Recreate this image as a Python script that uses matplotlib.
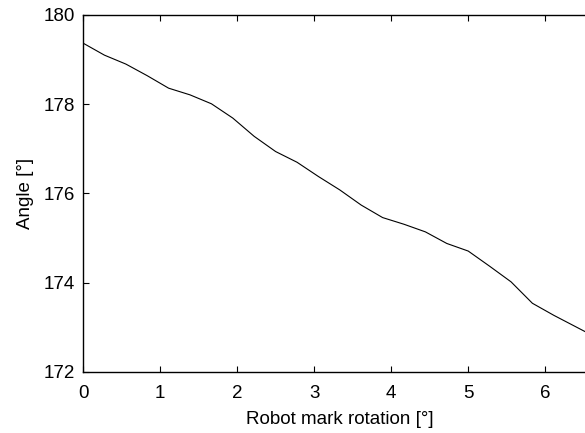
import numpy as np
import matplotlib
matplotlib.use("Agg")
from matplotlib import pyplot as plt

# values
rotation = [0.0, 0.278, 0.556, 0.833, 1.111, 1.389, 1.667, 1.944, 2.222, 2.5,
            2.778, 3.056, 3.333, 3.611, 3.889, 4.167, 4.444, 4.722, 5.0, 5.278,
            5.556, 5.833, 6.111, 6.389, 6.667]
angle = [179.37, 179.10, 178.90, 178.64, 178.36, 178.21, 178.01, 177.69, 177.28, 176.94,
         176.70, 176.38, 176.08, 175.74, 175.46, 175.31, 175.14, 174.88, 174.71, 174.37,
         174.02, 173.54, 173.27, 173.02, 172.77]
xticks = [0, 1, 2, 3, 4, 5, 6]
yticks = [172, 174, 176, 178, 180]

plt.rcParams['font.family'] = ['Liberation Sans', 'DejaVu Sans']

fig = plt.figure(figsize=(5.85, 4.33), dpi=100)
ax = fig.add_axes([0.1419, 0.1409, 0.878, 0.8245])
ax.plot(rotation, angle, color='black', linewidth=0.8)

ax.set_xlim(0, 6.667)
ax.set_ylim(172, 180)
ax.set_xticks(xticks)
ax.set_yticks(yticks)
# matlab style box: inward ticks on all four sides
ax.tick_params(direction='in', length=4, width=0.8, labelsize=13.5, top=True, right=True)
ax.tick_params(axis='x', pad=9.5)
ax.tick_params(axis='y', pad=5.8)
for s in ax.spines.values():
    s.set_linewidth(1.0)

ax.set_xlabel('Robot mark rotation [°]', fontsize=13.5, labelpad=6)
ax.set_ylabel('Angle [°]', fontsize=13.5, labelpad=7)

fig.savefig('out.png', dpi=100)
